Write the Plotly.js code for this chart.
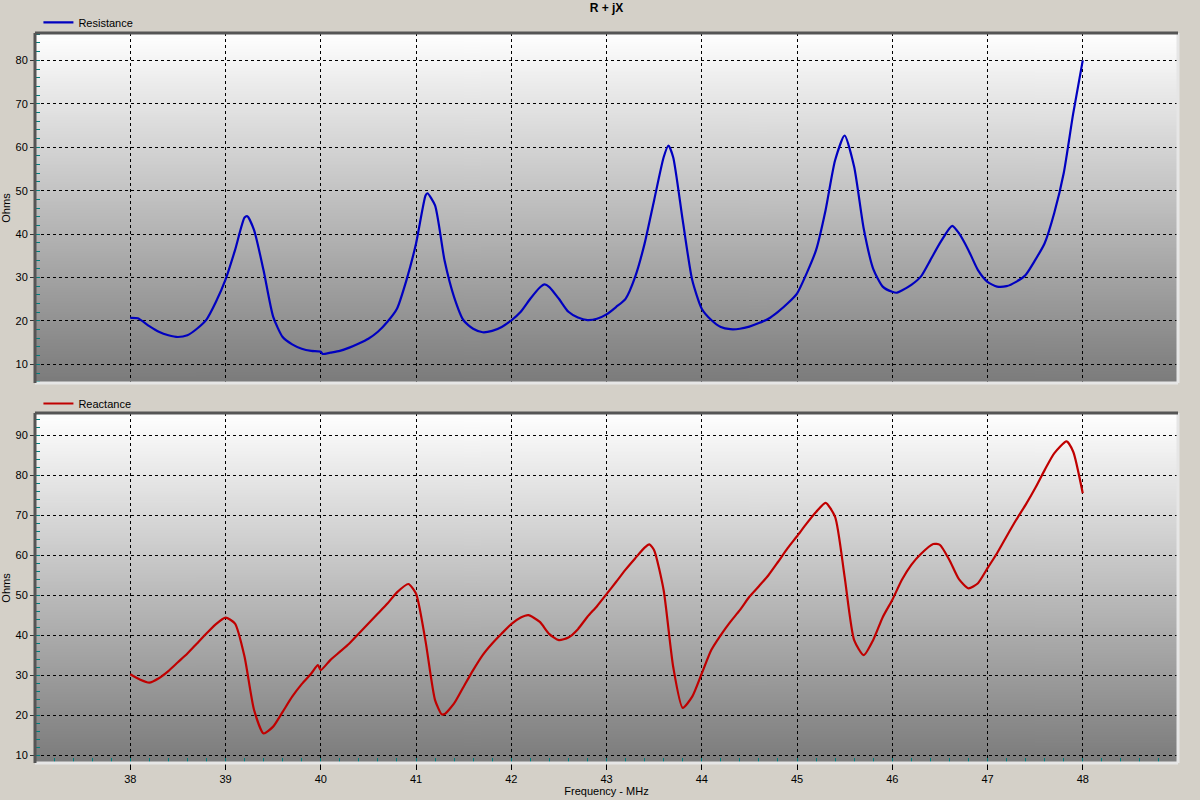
<!DOCTYPE html>
<html>
<head>
<meta charset="utf-8">
<script src="https://cdn.plot.ly/plotly-3.0.1.min.js"></script>
<style>
  html, body { margin: 0; padding: 0; background: #d4d0c8; }
  #chart { width: 1200px; height: 800px; }
</style>
</head>
<body>
<div id="chart"></div>
<script>
// --- data (MHz, Ohms) ---
const R_FREQ = [38.0, 38.08, 38.2, 38.3, 38.4, 38.5, 38.6, 38.7, 38.8, 38.9,
  39.0, 39.1, 39.2, 39.23, 39.3, 39.4, 39.5, 39.6, 39.7, 39.8, 39.9,
  40.0, 40.02, 40.1, 40.2, 40.3, 40.4, 40.5, 40.6, 40.7, 40.8, 40.9,
  41.0, 41.1, 41.12, 41.2, 41.3, 41.4, 41.5, 41.6, 41.7, 41.8, 41.9,
  42.0, 42.1, 42.2, 42.3, 42.35, 42.4, 42.5, 42.6, 42.7, 42.8, 42.9,
  43.0, 43.1, 43.2, 43.3, 43.4, 43.5, 43.6, 43.65, 43.7, 43.8, 43.9,
  44.0, 44.1, 44.2, 44.3, 44.4, 44.5, 44.6, 44.7, 44.8, 44.9,
  45.0, 45.1, 45.2, 45.3, 45.4, 45.5, 45.6, 45.7, 45.8, 45.9,
  46.0, 46.05, 46.1, 46.2, 46.3, 46.4, 46.5, 46.6, 46.63, 46.7, 46.8, 46.9,
  47.0, 47.1, 47.2, 47.3, 47.4, 47.5, 47.6, 47.7, 47.8, 47.9, 48.0];
const R_OHMS = [20.7, 20.6, 18.8, 17.5, 16.7, 16.3, 16.7, 18.2, 20.3, 24.4,
  29.5, 36.3, 43.8, 44.1, 40.9, 31.6, 21.0, 16.3, 14.6, 13.6, 13.1,
  12.9, 12.4, 12.7, 13.1, 13.85, 14.8, 15.9, 17.5, 19.8, 22.8, 29.4,
  37.8, 48.9, 49.4, 46.6, 33.9, 25.5, 20.1, 18.2, 17.4, 17.7, 18.6,
  20.1, 22.1, 25.1, 27.7, 28.4, 27.8, 25.1, 22.1, 20.8, 20.2, 20.5,
  21.5, 23.2, 25.1, 30.1, 37.8, 47.8, 57.7, 60.4, 57.7, 43.2, 29.4,
  22.8, 20.2, 18.6, 18.1, 18.2, 18.7, 19.5, 20.5, 22.1, 24.0,
  26.3, 30.9, 36.3, 45.5, 57.0, 62.7, 55.5, 41.3, 32.0, 27.9,
  26.7, 26.5, 27.0, 28.3, 30.2, 34.0, 37.9, 41.3, 41.9, 40.2, 36.3, 31.7,
  29.0, 27.9, 28.0, 29.0, 30.6, 34.0, 37.9, 44.8, 54.0, 67.8, 80.0];

const X_FREQ = [38.0, 38.1, 38.2, 38.3, 38.4, 38.5, 38.6, 38.7, 38.8, 38.9,
  39.0, 39.1, 39.2, 39.3, 39.4, 39.5, 39.6, 39.7, 39.8, 39.9, 39.97,
  40.0, 40.1, 40.2, 40.3, 40.4, 40.5, 40.6, 40.7, 40.8, 40.92,
  41.0, 41.1, 41.2, 41.27, 41.3, 41.4, 41.5, 41.6, 41.7, 41.8, 41.9,
  42.0, 42.1, 42.18, 42.3, 42.4, 42.5, 42.6, 42.7, 42.8, 42.9,
  43.0, 43.1, 43.2, 43.3, 43.4, 43.45, 43.5, 43.6, 43.7, 43.8, 43.9,
  44.0, 44.1, 44.2, 44.3, 44.4, 44.5, 44.6, 44.7, 44.8, 44.9,
  45.0, 45.1, 45.2, 45.3, 45.4, 45.5, 45.6, 45.7, 45.8, 45.9,
  46.0, 46.1, 46.2, 46.3, 46.43, 46.5, 46.6, 46.7, 46.8, 46.9,
  47.0, 47.1, 47.2, 47.3, 47.4, 47.5, 47.6, 47.7, 47.83, 47.9, 48.0];
const X_OHMS = [30.2, 28.9, 28.1, 29.2, 31.0, 33.2, 35.4, 37.9, 40.4, 42.75,
  44.4, 42.9, 34.6, 21.25, 15.4, 17.1, 20.8, 24.6, 27.75, 30.4, 32.5,
  31.25, 33.75, 35.8, 37.9, 40.4, 42.9, 45.4, 47.9, 50.7, 52.8,
  50.4, 38.5, 23.75, 20.2, 20.25, 22.9, 27.1, 31.25, 35.0, 37.9, 40.4,
  42.75, 44.4, 45.0, 43.3, 40.25, 38.75, 39.4, 41.5, 44.6, 47.25,
  50.25, 53.3, 56.4, 59.2, 61.9, 62.7, 61.25, 51.25, 32.1, 21.8, 24.6,
  30.4, 36.25, 40.0, 43.3, 46.25, 49.6, 52.25, 55.0, 58.3, 61.7,
  64.75, 67.9, 70.8, 73.1, 69.6, 54.6, 38.75, 35.0, 38.8, 44.5,
  48.8, 53.8, 57.6, 60.3, 62.8, 62.6, 58.8, 54.0, 51.7, 53.0,
  56.75, 60.5, 64.7, 68.8, 72.6, 76.75, 81.3, 85.5, 88.5, 85.9, 75.5];

const FREQ_TICKS = [38, 39, 40, 41, 42, 43, 44, 45, 46, 47, 48];
const R_RANGE = [5.7, 86.3];
const X_RANGE = [8, 95.6];

// --- plot area geometry (paper fractions) ---
const TOP_DOM = [0.5205, 1];
const BOT_DOM = [0, 0.4795];
const FONT = 'Liberation Sans, Arial, sans-serif';

// vertical white -> gray gradient used as plot background
function gradientImage() {
  const c = document.createElement('canvas');
  c.width = 4; c.height = 512;
  const ctx = c.getContext('2d');
  const g = ctx.createLinearGradient(0, 0, 0, 512);
  g.addColorStop(0, '#ffffff');
  g.addColorStop(1, '#7b7b7b');
  ctx.fillStyle = g;
  ctx.fillRect(0, 0, 4, 512);
  return c.toDataURL();
}

function bgImage(src, dom) {
  return {
    source: src, xref: 'paper', yref: 'paper',
    x: 0, y: dom[1], sizex: 1, sizey: dom[1] - dom[0],
    xanchor: 'left', yanchor: 'top', sizing: 'stretch', layer: 'below'
  };
}

// sunken 3d frame: dark top/left, light bottom/right
function frame(dom) {
  const dark = { color: '#555555', width: 3 };
  const light = { color: '#e6e6e6', width: 3 };
  const ln = (x0, y0, x1, y1, line) => ({
    type: 'line', xref: 'paper', yref: 'paper', x0, y0, x1, y1, line, layer: 'above'
  });
  return [
    ln(0, dom[0], 1, dom[0], light),
    ln(1, dom[0], 1, dom[1], light),
    ln(0, dom[1], 1, dom[1], dark),
    ln(0, dom[0], 0, dom[1], dark)
  ];
}

const gridStyle = { showgrid: true, gridcolor: '#000000', gridwidth: 1, griddash: '3px,3px', zeroline: false };

const yCommon = Object.assign({
  tick0: 0, dtick: 10,
  ticks: 'outside', ticklen: 4, tickcolor: '#333333', tickwidth: 1,
  minor: { tick0: 0, dtick: 2, ticks: 'inside', ticklen: 5, tickcolor: '#008080', tickwidth: 1, showgrid: false },
  tickfont: { family: FONT, size: 11, color: '#000000' },
  title: { text: 'Ohms', font: { family: FONT, size: 11, color: '#000000' }, standoff: 4 },
  showline: false, fixedrange: true
}, gridStyle);

const traces = [
  {
    x: R_FREQ, y: R_OHMS, xaxis: 'x2', yaxis: 'y2',
    type: 'scatter', mode: 'lines', name: 'Resistance', legend: 'legend',
    line: { color: '#0000c0', width: 2.2, shape: 'spline', smoothing: 0.6 }
  },
  {
    x: X_FREQ, y: X_OHMS, xaxis: 'x', yaxis: 'y',
    type: 'scatter', mode: 'lines', name: 'Reactance', legend: 'legend2',
    line: { color: '#c00000', width: 2.2, shape: 'spline', smoothing: 0.6 }
  }
];

const bg = gradientImage();

const layout = {
  width: 1200, height: 800,
  margin: { l: 35, r: 22, t: 33, b: 37, pad: 0, autoexpand: false },
  paper_bgcolor: '#d4d0c8',
  plot_bgcolor: 'rgba(0,0,0,0)',
  font: { family: FONT, size: 11, color: '#000000' },
  title: {
    text: '<b>R + jX</b>', font: { family: FONT, size: 12, color: '#000000' },
    x: 0.5, xref: 'paper', y: 0.99, yref: 'container', yanchor: 'middle'
  },
  xaxis: Object.assign({
    domain: [0, 1], anchor: 'y', range: [37, 49],
    tickmode: 'array', tickvals: FREQ_TICKS,
    ticks: 'outside', ticklen: 6, tickcolor: '#000000', tickwidth: 1,
    minor: { tickmode: 'linear', tick0: 37, dtick: 0.2, ticks: 'inside', ticklen: 5, tickcolor: '#008080', tickwidth: 1, showgrid: false },
    tickfont: { family: FONT, size: 11, color: '#000000' },
    title: { text: 'Frequency - MHz', font: { family: FONT, size: 11, color: '#000000' }, standoff: 2 },
    fixedrange: true
  }, gridStyle),
  xaxis2: Object.assign({
    domain: [0, 1], anchor: 'y2', range: [37, 49], matches: 'x',
    tickmode: 'array', tickvals: FREQ_TICKS,
    showticklabels: false, ticks: '', fixedrange: true
  }, gridStyle),
  yaxis: Object.assign({}, yCommon, { domain: BOT_DOM, anchor: 'x', range: X_RANGE }),
  yaxis2: Object.assign({}, yCommon, { domain: TOP_DOM, anchor: 'x2', range: R_RANGE }),
  showlegend: true,
  legend: {
    x: 0.003, xanchor: 'left', y: 1.0145, yanchor: 'middle', orientation: 'h',
    bgcolor: 'rgba(0,0,0,0)', borderwidth: 0, font: { family: FONT, size: 11, color: '#000000' },
    itemclick: false, itemdoubleclick: false
  },
  legend2: {
    x: 0.003, xanchor: 'left', y: 0.4925, yanchor: 'middle', orientation: 'h',
    bgcolor: 'rgba(0,0,0,0)', borderwidth: 0, font: { family: FONT, size: 11, color: '#000000' },
    itemclick: false, itemdoubleclick: false
  },
  images: [bgImage(bg, TOP_DOM), bgImage(bg, BOT_DOM)],
  shapes: frame(TOP_DOM).concat(frame(BOT_DOM))
};

Plotly.newPlot('chart', traces, layout, { displayModeBar: false, staticPlot: true });
</script>
</body>
</html>
